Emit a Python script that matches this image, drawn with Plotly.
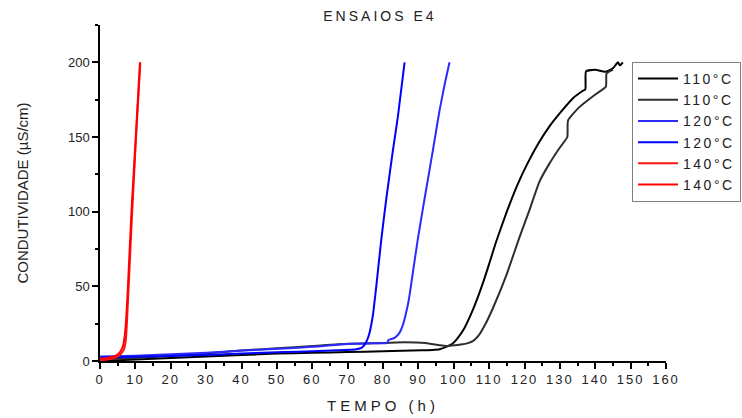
import plotly.graph_objects as go

# Conductivity vs time for the E4 test runs
t_110a = [0, 10, 20, 30, 40, 50, 60, 70, 80, 91, 94, 96, 98, 99.7, 101, 103, 105, 107, 108.5, 110,
          112, 115, 118, 121, 124, 127, 130, 133.7, 136.5, 137.2, 137.4, 140, 143, 145, 146.4, 147, 147.8]
c_110a = [0, 1, 2, 3, 4, 5, 5.5, 6, 6.5, 7.2, 7.4, 7.8, 9.6, 11.7, 15, 22, 32, 44, 54, 65,
          80, 100, 118, 133, 146, 157, 166, 176, 181, 182, 194, 195, 193.7, 196, 200, 198, 200]

t_110b = [0, 10, 20, 30, 40, 50, 60, 70, 80, 86, 92, 96, 98, 100, 102, 104, 105.5, 107, 109, 111,
          114.8, 118.6, 121.4, 124.2, 127, 130, 132.1, 132.3, 135.5, 140.3, 143.0, 143.2, 145]
c_110b = [1, 2, 3.5, 5, 7, 8.5, 10, 11.5, 12, 12.5, 12, 10.5, 10, 10.5, 11, 12, 13.5, 17, 25, 35,
          57, 83, 101, 120, 132, 143, 150, 161, 170, 179, 183.6, 192.6, 195]

t_120a = [0, 10, 20, 30, 40, 52, 60, 71, 76, 81, 81.3, 81.5, 83.3, 84.7, 85.6, 86.5, 87.3, 88,
          89.8, 91.7, 94.1, 96, 97.5, 98.8]
c_120a = [3, 3.5, 4.5, 5.5, 7, 8.3, 9.5, 11.6, 11.8, 12, 12.5, 14, 15.5, 19, 24, 32, 41, 52,
          81, 108, 141, 168, 186, 200]

t_120b = [0, 10, 20, 30, 40, 52, 60, 71, 72.5, 74, 74.8, 75.5, 76.2, 77.1, 78.1, 79.5, 80.9,
          82.8, 84.2, 86.1]
c_120b = [2.3, 2.8, 3.3, 4, 5, 6, 6.5, 7.5, 7.8, 9, 11, 14, 19, 30, 50, 81, 108, 141, 163.5, 200]

t_140a = [0, 2, 4, 5, 6, 6.8, 7.3, 7.6, 8.1, 9.1, 10.2, 11.4]
c_140a = [0.5, 1, 2, 3, 5, 8, 14, 25, 50, 100, 150, 200]

t_140b = [0, 2, 4, 5, 5.8, 6.5, 7.0, 7.4, 7.9, 8.9, 10.1, 11.3]
c_140b = [1.5, 2, 3, 4.5, 6.5, 10, 17, 28, 50, 100, 150, 200]

names = ["110°C", "110°C", "120°C", "120°C", "140°C", "140°C"]
colors = ["#000000", "#2e2e2e", "#2a2aff", "#0000ff", "#ff1414", "#ff0000"]
series = [(t_110a, c_110a), (t_110b, c_110b), (t_120a, c_120a),
          (t_120b, c_120b), (t_140a, c_140a), (t_140b, c_140b)]

FONT = "Liberation Sans, Arial, sans-serif"


def spaced(s, px):
    return f'<span style="letter-spacing:{px}px">{s}</span>'


fig = go.Figure()
for (t, c), name, col in zip(series, names, colors):
    fig.add_trace(go.Scatter(x=t, y=c, mode="lines", name=spaced(name, 2.5),
                             line=dict(color=col, width=2, shape="spline", smoothing=0.5)))

fig.update_layout(
    width=742, height=418,
    margin=dict(l=100, r=76, t=25, b=57, autoexpand=False),
    plot_bgcolor="white", paper_bgcolor="white",
    font=dict(family=FONT, color="#222222", size=13),
    title=dict(text=spaced("ENSAIOS E4", 3), x=0.512, xanchor="center",
               y=0.962, yanchor="middle", font=dict(size=14, color="#222222")),
    showlegend=True,
    legend=dict(x=0.94, y=0.89, xanchor="left", yanchor="top",
                bordercolor="#808080", borderwidth=1, bgcolor="white",
                font=dict(size=14, color="#222222"), tracegroupgap=0,
                itemwidth=40),
)

tick_x = list(range(0, 161, 10))
fig.update_xaxes(
    range=[0, 160], tickvals=tick_x, ticktext=[spaced(str(v), 2) for v in tick_x],
    showline=True, linecolor="black", linewidth=1.5, mirror=False,
    ticks="outside", ticklen=6, tickwidth=1.5, tickcolor="black",
    minor=dict(dtick=5, ticks="outside", ticklen=3.5, tickwidth=1.5, tickcolor="black"),
    showgrid=False, zeroline=False,
    title=dict(text=spaced("TEMPO (h)", 4), font=dict(size=15), standoff=14),
    tickfont=dict(size=13),
)
fig.update_yaxes(
    range=[0, 225], tickvals=[0, 50, 100, 150, 200],
    showline=True, linecolor="black", linewidth=1.5, mirror=False,
    ticks="outside", ticklen=6, tickwidth=1.5, tickcolor="black",
    minor=dict(dtick=25, ticks="outside", ticklen=3.5, tickwidth=1.5, tickcolor="black"),
    showgrid=False, zeroline=False,
    title=dict(text="CONDUTIVIDADE (µS/cm)", font=dict(size=15), standoff=36),
    tickfont=dict(size=13),
)

fig.write_html("out.html")
